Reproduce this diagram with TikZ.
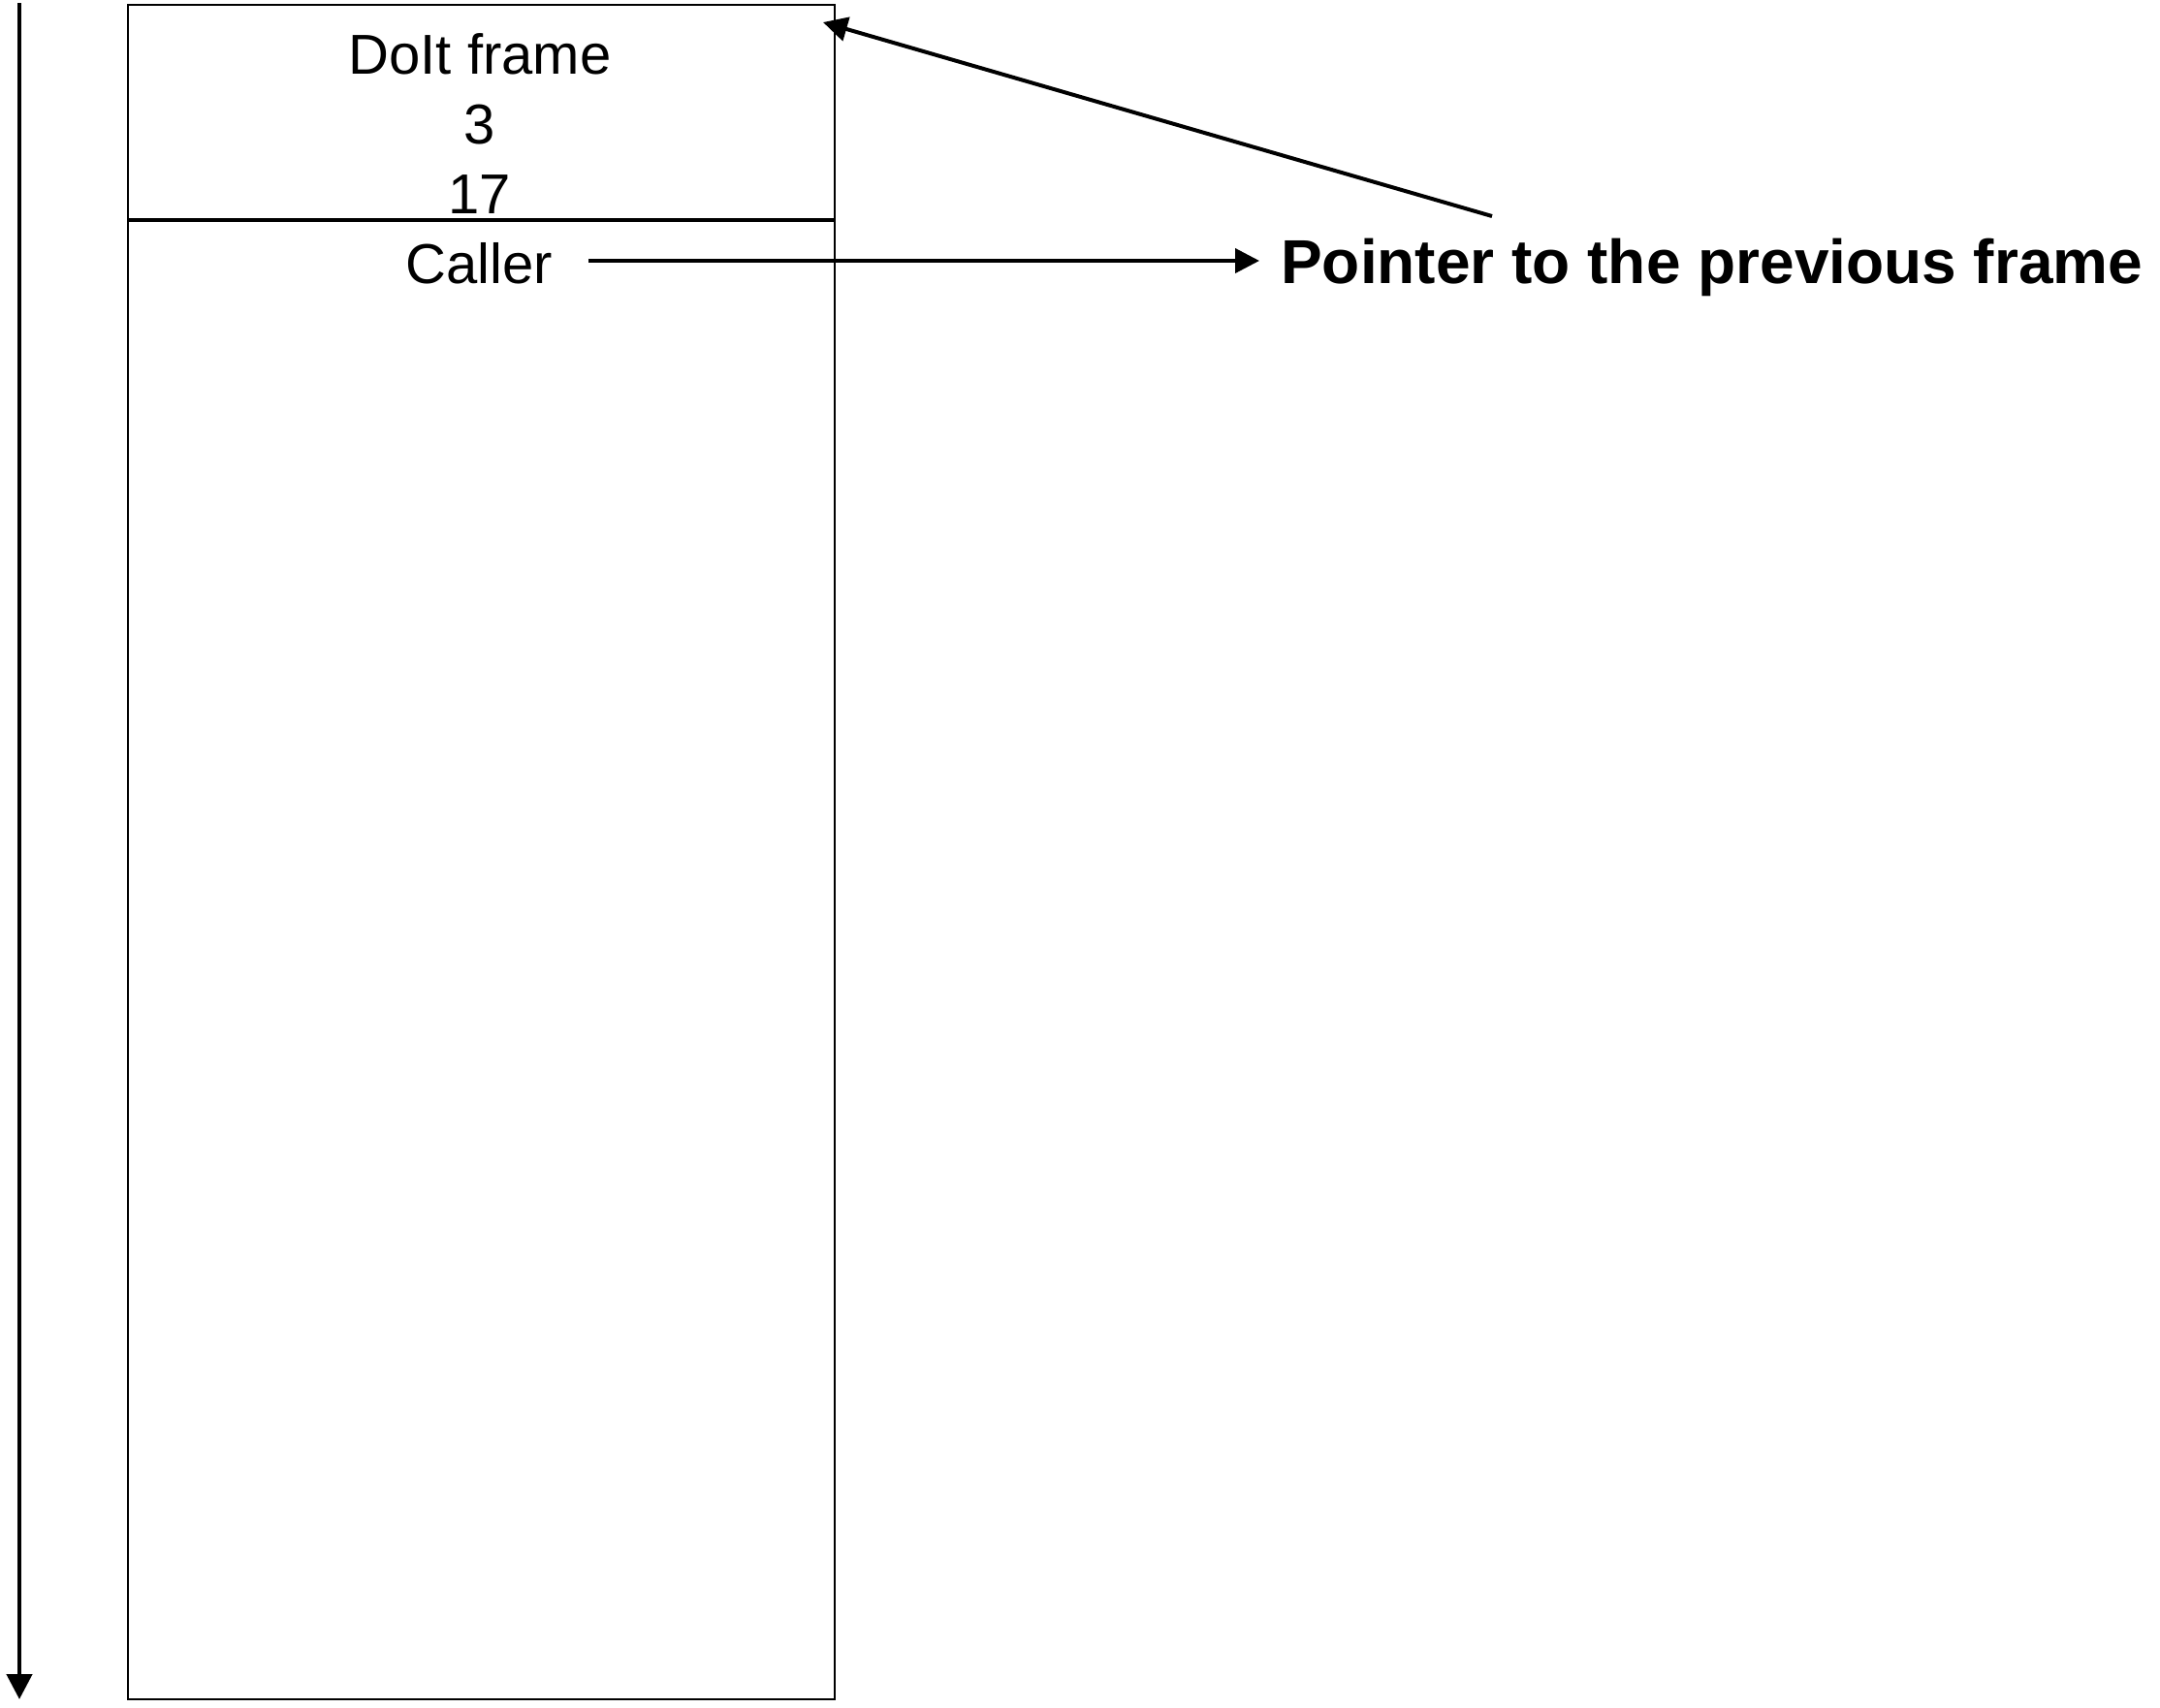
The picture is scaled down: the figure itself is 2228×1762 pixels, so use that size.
\documentclass[tikz,border=0pt]{standalone}
\usepackage{fontspec}
\setmainfont{Liberation Sans}
\usetikzlibrary{arrows.meta}
\begin{document}
\begin{tikzpicture}[x=1pt,y=-1pt,
  lbl/.style={font=\fontsize{58}{70}\selectfont, inner sep=0pt, anchor=base},
  bold/.style={font=\fontsize{64}{76}\selectfont\bfseries, inner sep=0pt, anchor=base west},
  conn/.style={line width=4pt, -{Triangle[length=25pt,width=25pt]}}]
\useasboundingbox[fill=white] (0,0) rectangle (2228,1762);
% stack frame box
\node[draw, line width=2pt, minimum width=729pt, minimum height=1748pt, inner sep=0pt, anchor=north west] (frame) at (131,4) {};
\coordinate (dy) at (0,227);
\draw[line width=4pt] (frame.west |- dy) -- (frame.east |- dy);
% time axis
\coordinate (ttop) at (20,3);
\coordinate (tbot) at (20,1753);
\draw[line width=4.5pt, -{Triangle[length=26pt,width=26pt]}] (ttop) -- (tbot);
% texts
\node[lbl] (doit) at (495,76) {DoIt frame};
\node[lbl] (three) at (495,148) {3};
\node[lbl] (seventeen) at (495,220) {17};
\node[lbl] (caller) at (494,292) {Caller};
\node[bold] (pointer) at (1321,292) {Pointer to the previous frame};
% connectors
\coordinate (cstart) at (607,269);
\coordinate (cend) at (1299,269);
\draw[conn] (cstart) -- (cend);
\coordinate (pstart) at (1539,223);
\coordinate (pend) at (849,23);
\draw[conn] (pstart) -- (pend);
\end{tikzpicture}
\end{document}
